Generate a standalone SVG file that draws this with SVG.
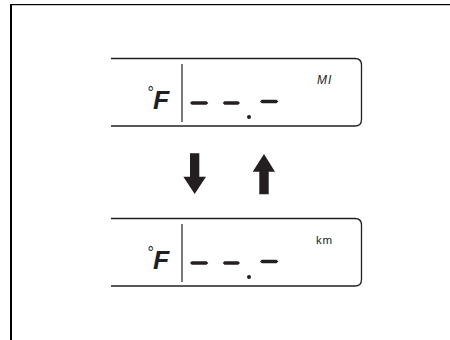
<svg xmlns="http://www.w3.org/2000/svg" width="450" height="340" viewBox="0 0 450 340">
  <style>
    .box { fill: none; stroke: #231f20; stroke-width: 1.3; }
    .sep { stroke: #231f20; stroke-width: 1.2; }
    .seg { fill: #231f20; }
    .unit { font-family: "Liberation Sans", Arial, sans-serif; fill: #231f20; }
    .deg { font-family: "Liberation Sans", Arial, sans-serif; fill: #231f20; font-style: italic; }
    .arrow { fill: #231f20; }
  </style>
  <defs>
    <g id="digits">
      <polygon class="seg" points="190,103 191.8,101.2 206.5,101.2 208.3,103 206.5,104.8 191.8,104.8"/>
      <polygon class="seg" points="222.7,103 224.5,101.2 238.2,101.2 240,103 238.2,104.8 224.5,104.8"/>
      <polygon class="seg" points="260,101.5 261.8,99.7 276.5,99.7 278.3,101.5 276.5,103.3 261.8,103.3"/>
      <circle class="seg" cx="249" cy="117" r="2"/>
    </g>
  </defs>
  <rect id="frame" x="10" y="4" width="2" height="336" fill="#000"/>
  <rect x="10" y="4" width="440" height="1.2" fill="#000"/>

  <g id="display-mi">
    <path class="box" d="M111,58.5 H355 Q361.5,58.5 361.5,65 V119.5 Q361.5,126 355,126 H111"/>
    <line class="sep" x1="182" y1="64" x2="182" y2="122"/>
    <text class="deg" x="147.5" y="109"><tspan font-size="16" font-style="normal" dy="-11">°</tspan><tspan font-size="26.5" font-weight="bold" dy="11" dx="-1">F</tspan></text>
    <use href="#digits"/>
    <text class="unit" x="317" y="84.3" font-size="12" font-style="italic" letter-spacing="1">MI</text>
  </g>

  <g id="display-km">
    <path class="box" d="M111,218.5 H355 Q361.5,218.5 361.5,225 V279.5 Q361.5,286 355,286 H111"/>
    <line class="sep" x1="182" y1="224" x2="182" y2="282"/>
    <text class="deg" x="147.5" y="269"><tspan font-size="16" font-style="normal" dy="-11">°</tspan><tspan font-size="26.5" font-weight="bold" dy="11" dx="-1">F</tspan></text>
    <use href="#digits" transform="translate(0,160)"/>
    <text class="unit" x="316" y="244.3" font-size="11.5" letter-spacing="0.8">km</text>
  </g>

  <g id="connectors">
    <polygon class="arrow" points="190,153.3 199.3,153.3 199.3,176.7 206,176.7 194.7,194 183.3,176.7 190,176.7"/>
    <polygon class="arrow" points="264,154 275,171.7 268.7,171.7 268.7,194.3 259.3,194.3 259.3,171.7 252.7,171.7"/>
  </g>
</svg>
